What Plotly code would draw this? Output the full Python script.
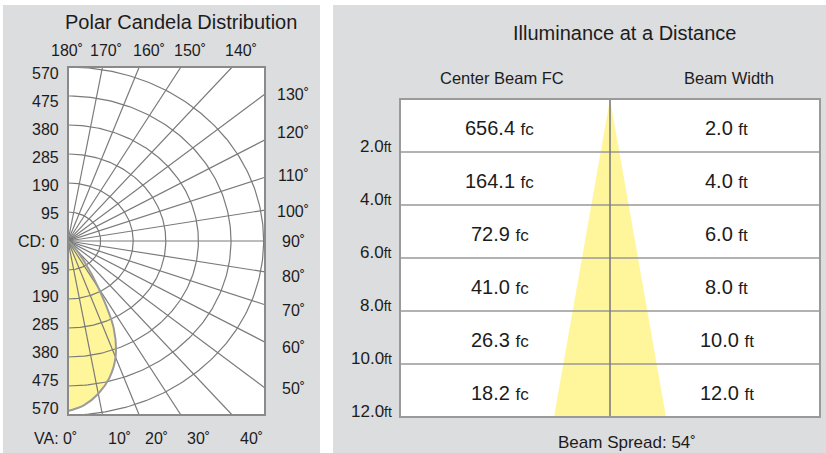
import numpy as np
import plotly.graph_objects as go

W, H = 826, 453

# ---------------- data ----------------
# Polar candela distribution (vertical angle in degrees, candela)
va_angles = [0, 5, 10, 15, 20, 25, 30, 35, 40, 45, 50]
candela = [557, 540, 508, 465, 405, 315, 178, 85, 35, 10, 0]
cd_ticks = [95, 190, 285, 380, 475, 570]
grid_angles = list(range(0, 181, 10))
top_angle_labels = [180, 170, 160, 150, 140]
right_angle_labels = [130, 120, 110, 100, 90, 80, 70, 60, 50]
bottom_angle_labels = [0, 10, 20, 30, 40]

# Illuminance at a distance
distances = [2.0, 4.0, 6.0, 8.0, 10.0, 12.0]
center_fc = [656.4, 164.1, 72.9, 41.0, 26.3, 18.2]
beam_width = [2.0, 4.0, 6.0, 8.0, 10.0, 12.0]
beam_spread = 54

# ---------------- style ----------------
FONT = "Liberation Sans, Arial, sans-serif"
TXT = "#1c1c1c"
GRID = "#7a7a7a"
PANEL = "#dcdddf"
YELLOW = "#fff59b"

CD_MAX = 570
X_MAX = 574


def px(x):
    return x / W


def py(y):
    return 1 - y / H


def ann(text, x, y, size, xanchor="center"):
    return dict(text=text, x=px(x), y=py(y), xref="paper", yref="paper",
                xanchor=xanchor, yanchor="middle", showarrow=False,
                font=dict(size=size, family=FONT, color=TXT))


fig = go.Figure()

# ---- left: candela curve fill ----
th = np.radians(va_angles)
cx = np.array(candela) * np.sin(th)
cy = -np.array(candela) * np.cos(th)
fig.add_trace(go.Scatter(x=cx, y=cy, mode="lines", fill="toself",
                         fillcolor=YELLOW, line=dict(width=0, shape="spline"),
                         hoverinfo="skip", xaxis="x", yaxis="y"))

# rings
gx, gy = [], []
tt = np.radians(np.linspace(0, 180, 181))
for r in cd_ticks:
    gx += list(r * np.sin(tt)) + [None]
    gy += list(-r * np.cos(tt)) + [None]
# radial lines to box edge
for a in grid_angles:
    s, c = np.sin(np.radians(a)), -np.cos(np.radians(a))
    t = np.inf
    if s > 1e-9:
        t = min(t, X_MAX / s)
    if abs(c) > 1e-9:
        t = min(t, CD_MAX / abs(c))
    gx += [0, t * s, None]
    gy += [0, t * c, None]
fig.add_trace(go.Scatter(x=gx, y=gy, mode="lines",
                         line=dict(color=GRID, width=1.2),
                         hoverinfo="skip", xaxis="x", yaxis="y"))

# curve outline
fig.add_trace(go.Scatter(x=cx, y=cy, mode="lines",
                         line=dict(color="#9a9a9a", width=2, shape="spline"),
                         hoverinfo="skip", xaxis="x", yaxis="y"))

# ---- right: beam cone ----
half = beam_width[-1] / 2
fig.add_trace(go.Scatter(x=[0, -half, half, 0], y=[0, distances[-1], distances[-1], 0],
                         mode="lines", fill="toself", fillcolor=YELLOW,
                         line=dict(width=0), hoverinfo="skip",
                         xaxis="x2", yaxis="y2"))

shapes = [
    dict(type="rect", xref="paper", yref="paper", x0=px(3), x1=px(320),
         y0=py(453), y1=py(5), fillcolor=PANEL, line=dict(width=0), layer="below"),
    dict(type="rect", xref="paper", yref="paper", x0=px(333), x1=px(826),
         y0=py(453), y1=py(5), fillcolor=PANEL, line=dict(width=0), layer="below"),
    dict(type="rect", xref="x domain", yref="y domain", x0=0, x1=1, y0=0, y1=1,
         fillcolor="white", line=dict(width=0), layer="below"),
    dict(type="rect", xref="x domain", yref="y domain", x0=0, x1=1, y0=0, y1=1,
         line=dict(color="#8a8a8a", width=2), layer="above"),
    dict(type="rect", xref="x2 domain", yref="y2 domain", x0=0, x1=1, y0=0, y1=1,
         fillcolor="white", line=dict(width=0), layer="below"),
]
for d in distances[:-1]:
    shapes.append(dict(type="line", xref="x2 domain", yref="y2", x0=0, x1=1,
                       y0=d, y1=d, line=dict(color="#999999", width=1.6), layer="above"))
shapes.append(dict(type="line", xref="x2", yref="y2", x0=0, x1=0, y0=0,
                   y1=distances[-1], line=dict(color="#7c7c7c", width=1.6), layer="above"))
shapes.append(dict(type="rect", xref="x2 domain", yref="y2 domain", x0=0, x1=1,
                   y0=0, y1=1, line=dict(color="#9a9a9a", width=2), layer="above"))

annotations = []
# left panel texts
annotations.append(ann("Polar Candela Distribution", 181, 22, 20))
top_pos = [67, 106, 149, 190, 241]
for a, xp in zip(top_angle_labels, top_pos):
    annotations.append(ann(f"{a}˚", xp, 50, 16))
right_pos = [95, 133, 175, 212, 242, 276, 310, 347, 388]
for a, yp in zip(right_angle_labels, right_pos):
    annotations.append(ann(f"{a}˚", 293, yp, 16))
bottom_pos = [55, 119, 156, 198, 251]
for a, xp in zip(bottom_angle_labels, bottom_pos):
    lab = f"VA: {a}˚" if a == 0 else f"{a}˚"
    annotations.append(ann(lab, xp, 438, 16))
annotations.append(ann("CD: 0", 61, 241, 16, "right"))
for t in cd_ticks:
    off = t / CD_MAX * 167
    annotations.append(ann(str(t), 61, 241 - off, 16, "right"))
    annotations.append(ann(str(t), 61, 241 + off, 16, "right"))

# right panel texts
annotations.append(ann("Illuminance at a Distance", 624, 33, 20))
annotations.append(ann("Center Beam FC", 502, 78, 16.5))
annotations.append(ann("Beam Width", 729, 78, 16.5))
annotations.append(ann(f"Beam Spread: {beam_spread}˚", 627, 442, 17))

for d, fc, bw in zip(distances, center_fc, beam_width):
    yc = d - 1
    annotations.append(dict(text=f"{fc:.1f} <span style='font-size:17px'>fc</span>",
                            x=-11.8, y=yc, xref="x2", yref="y2", xanchor="center",
                            yanchor="middle", yshift=-2, showarrow=False,
                            font=dict(size=20, family=FONT, color=TXT)))
    annotations.append(dict(text=f"{bw:.1f} <span style='font-size:17px'>ft</span>",
                            x=12.5, y=yc, xref="x2", yref="y2", xanchor="center",
                            yanchor="middle", yshift=-2, showarrow=False,
                            font=dict(size=20, family=FONT, color=TXT)))
    annotations.append(dict(text=f"{d:.1f}<span style='font-size:14px'>ft</span>",
                            x=px(394), y=d, xref="paper", yref="y2", xanchor="right",
                            yanchor="middle", yshift=6, showarrow=False,
                            font=dict(size=17, family=FONT, color=TXT)))

fig.update_layout(
    width=W, height=H,
    margin=dict(l=0, r=0, t=0, b=0),
    paper_bgcolor="white",
    plot_bgcolor="rgba(0,0,0,0)",
    showlegend=False,
    xaxis=dict(domain=[px(68), px(265)], range=[0, X_MAX], visible=False,
               fixedrange=True, anchor="y"),
    yaxis=dict(domain=[py(415), py(67)], range=[-CD_MAX, CD_MAX], visible=False,
               fixedrange=True, anchor="x"),
    xaxis2=dict(domain=[px(400), px(820)], range=[-22.5, 22.5], visible=False,
                fixedrange=True, anchor="y2"),
    yaxis2=dict(domain=[py(417), py(99)], range=[distances[-1], 0], visible=False,
                fixedrange=True, anchor="x2"),
    shapes=shapes,
    annotations=annotations,
)

fig.write_html(
    "out.html",
    config={"displayModeBar": False},
    post_script="document.body.style.margin='0';document.body.style.padding='0';"
                "document.body.style.overflow='hidden';",
)
